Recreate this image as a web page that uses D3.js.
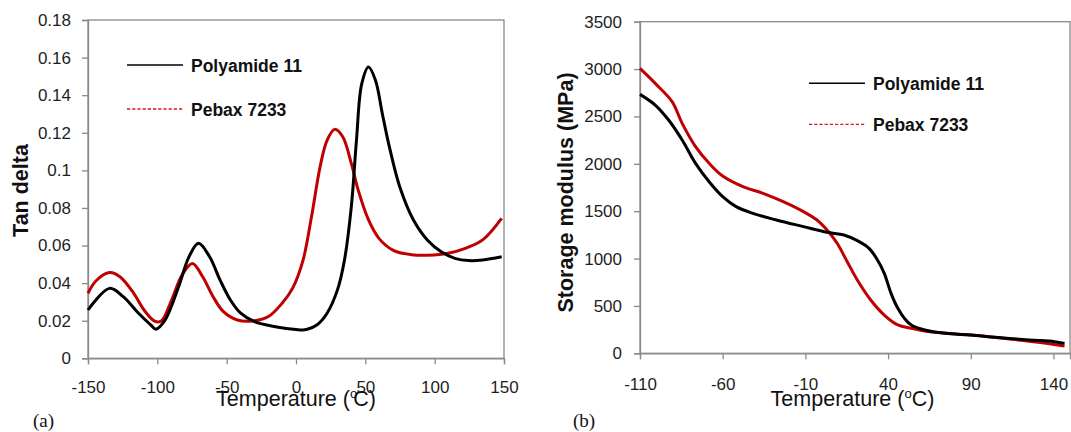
<!DOCTYPE html>
<html>
<head>
<meta charset="utf-8">
<script src="https://cdn.jsdelivr.net/npm/d3@7"></script>
<style>
  body { margin: 0; background: #fff; }
  svg { display: block; }
</style>
</head>
<body>
<script>
// (a) tan delta
const tanTicksX = [-150, -100, -50, 0, 50, 100, 150];
const tanTicksY = [0, 0.02, 0.04, 0.06, 0.08, 0.1, 0.12, 0.14, 0.16, 0.18];
const tanTempPA = [-150, -134.5, -124.6, -114.6, -104.6, -101, -94.7, -84.7, -77.2, -70.3, -62.3, -54.8, -47.3, -39.9, -29.9, -15, 0, 7.5, 15, 22.4, 29.9, 34.9, 39.9, 43.6, 47.4, 52.3, 57.3, 62.3, 67.3, 74.8, 84.7, 94.7, 104.7, 114.6, 124.6, 134.6, 148.3];
const tanPA = [0.0257, 0.0372, 0.0328, 0.0248, 0.0177, 0.0155, 0.020, 0.038, 0.054, 0.0612, 0.054, 0.0417, 0.031, 0.024, 0.0195, 0.0168, 0.0153, 0.0153, 0.0177, 0.024, 0.0364, 0.052, 0.0807, 0.116, 0.146, 0.155, 0.148, 0.130, 0.1126, 0.0913, 0.0736, 0.063, 0.0567, 0.0532, 0.052, 0.0523, 0.054];
const tanTempPB = [-150, -144.5, -134.5, -127, -117, -109.6, -102, -97.2, -89.7, -82.2, -74.7, -67.3, -59.8, -52.3, -42.3, -29.9, -19.9, -10, -2.5, 5, 11.2, 17.4, 22.4, 27.9, 33.6, 39.9, 44.8, 52.3, 59.8, 69.8, 84.7, 99.7, 109.7, 122.1, 134.6, 148.3];
const tanPB = [0.0346, 0.041, 0.0456, 0.0434, 0.0346, 0.0257, 0.0198, 0.0198, 0.031, 0.0443, 0.0505, 0.0434, 0.0328, 0.0248, 0.0204, 0.020, 0.0222, 0.0293, 0.0372, 0.052, 0.0754, 0.102, 0.116, 0.1218, 0.118, 0.1037, 0.0896, 0.0736, 0.0638, 0.0576, 0.055, 0.055, 0.0559, 0.0585, 0.063, 0.0745];

// (b) storage modulus
const modTicksX = [-110, -60, -10, 40, 90, 140];
const modTicksY = [0, 500, 1000, 1500, 2000, 2500, 3000, 3500];
const modTempPA = [-110, -100.8, -92.7, -84.5, -76.4, -68.2, -60, -51.9, -41.7, -27.5, -11.2, 3.1, 13.3, 21.4, 28.5, 33.6, 37.7, 41.8, 45.9, 49.9, 54, 62.2, 74.4, 90, 104.9, 125.3, 140.6, 146.7];
const modPA = [2733, 2620, 2462, 2251, 2005, 1811, 1653, 1548, 1477, 1407, 1337, 1277, 1249, 1189, 1108, 985, 844, 633, 475, 369, 299, 246, 211, 193, 169, 141, 123, 105];
const modTempPB = [-110, -100.8, -90.6, -84.5, -76.4, -68.2, -60, -47.8, -35.6, -23.4, -11.2, -3, 3.1, 9.2, 15.3, 21.4, 29.5, 37.7, 45.9, 54, 64.2, 90, 115.1, 135.5, 146.7];
const modPB = [3007, 2849, 2656, 2427, 2181, 2005, 1871, 1759, 1688, 1600, 1495, 1407, 1301, 1161, 967, 774, 563, 404, 299, 264, 229, 193, 148, 106, 77];

const seriesNames = ['Polyamide 11', 'Pebax 7233'];

const black = '#000000';
const red = '#c00000';
const axisGray = '#8a8a8a';
const sans = "'Liberation Sans', Arial, sans-serif";

const svg = d3.select('body').append('svg')
  .attr('width', 1071)
  .attr('height', 432)
  .style('background', '#fff');

function panel(opts) {
  const x = d3.scaleLinear().domain(opts.xDomain).range([opts.left, opts.right]);
  const y = d3.scaleLinear().domain(opts.yDomain).range([opts.bottom, opts.top]);
  const g = svg.append('g');

  // frame
  g.append('rect')
    .attr('x', opts.left).attr('y', opts.top)
    .attr('width', opts.right - opts.left)
    .attr('height', opts.bottom - opts.top)
    .attr('fill', 'none')
    .attr('stroke', axisGray)
    .attr('stroke-width', 1.3);

  const xAxis = g.append('g')
    .attr('transform', `translate(0, ${opts.bottom})`)
    .call(d3.axisBottom(x).tickValues(opts.xTicks).tickSize(6).tickPadding(opts.xPad).tickFormat(d => String(d)));

  const yAxis = g.append('g')
    .attr('transform', `translate(${opts.left}, 0)`)
    .call(d3.axisLeft(y).tickValues(opts.yTicks).tickSize(6).tickPadding(opts.yPad).tickFormat(d => String(d)));

  [xAxis, yAxis].forEach(a => {
    a.select('.domain').attr('stroke', axisGray).attr('stroke-width', 1.3);
    a.selectAll('.tick line').attr('stroke', axisGray).attr('stroke-width', 1.3);
    a.selectAll('.tick text')
      .attr('fill', '#1e1e1e')
      .style('font-family', sans)
      .style('font-size', '17px');
  });

  const line = d3.line()
    .x(d => x(d[0]))
    .y(d => y(d[1]))
    .curve(d3.curveCatmullRom.alpha(0.5));

  // Pebax first, polyamide on top where they cross
  g.append('path')
    .datum(d3.zip(opts.tempPB, opts.valPB))
    .attr('d', line)
    .attr('fill', 'none')
    .attr('stroke', red)
    .attr('stroke-width', 3);

  g.append('path')
    .datum(d3.zip(opts.tempPA, opts.valPA))
    .attr('d', line)
    .attr('fill', 'none')
    .attr('stroke', black)
    .attr('stroke-width', 3);

  // legend
  const legend = g.append('g');
  legend.append('line')
    .attr('x1', opts.legX).attr('x2', opts.legX + 56)
    .attr('y1', opts.legY).attr('y2', opts.legY)
    .attr('stroke', black).attr('stroke-width', 1.6);
  legend.append('line')
    .attr('x1', opts.legX).attr('x2', opts.legX + 56)
    .attr('y1', opts.legY + opts.legGap).attr('y2', opts.legY + opts.legGap)
    .attr('stroke', '#e0141e').attr('stroke-width', 1.3)
    .attr('stroke-dasharray', '3.2,2');
  legend.selectAll('text.leg')
    .data(seriesNames)
    .enter()
    .append('text')
    .attr('class', 'leg')
    .attr('x', opts.legX + 64)
    .attr('y', (d, i) => opts.legY + 7 + i * opts.legGap)
    .text(d => d)
    .style('font-family', sans)
    .style('font-size', '17.5px')
    .style('font-weight', 700)
    .attr('fill', '#111');

  // y title
  g.append('text')
    .attr('transform', `translate(${opts.yTitleX}, ${opts.yTitleY}) rotate(-90)`)
    .attr('text-anchor', 'middle')
    .style('font-family', sans)
    .style('font-size', '21.5px')
    .style('font-weight', 700)
    .attr('fill', '#111')
    .text(opts.yTitle);

  // x title
  const xt = g.append('text')
    .attr('x', opts.xTitleX)
    .attr('y', 405.5)
    .attr('text-anchor', 'middle')
    .style('font-family', sans)
    .style('font-size', '21.5px')
    .attr('fill', '#111');
  xt.append('tspan').text('Temperature (');
  xt.append('tspan').attr('dy', -8).style('font-size', '13px').text('o');
  xt.append('tspan').attr('dy', 8).attr('dx', opts.cShift).text('C)');

  // panel letter
  g.append('text')
    .attr('x', opts.letterX)
    .attr('y', 427)
    .style('font-family', "'Liberation Serif', 'Times New Roman', serif")
    .style('font-size', '19px')
    .attr('fill', '#111')
    .text(opts.letter);
}

panel({
  xDomain: [-150, 150], yDomain: [0, 0.18],
  left: 88, right: 504, top: 20, bottom: 358.3,
  xTicks: tanTicksX, yTicks: tanTicksY, xPad: 17, yPad: 11,
  tempPA: tanTempPA, valPA: tanPA, tempPB: tanTempPB, valPB: tanPB,
  legX: 127, legY: 65, legGap: 44,
  yTitle: 'Tan delta', yTitleX: 28, yTitleY: 190.5,
  xTitleX: 296, cShift: -4,
  letter: '(a)', letterX: 33
});

panel({
  xDomain: [-110, 150], yDomain: [0, 3500],
  left: 640, right: 1070, top: 21.7, bottom: 353.3,
  xTicks: modTicksX, yTicks: modTicksY, xPad: 19, yPad: 12,
  tempPA: modTempPA, valPA: modPA, tempPB: modTempPB, valPB: modPB,
  legX: 809, legY: 83.3, legGap: 41,
  yTitle: 'Storage modulus  (MPa)', yTitleX: 573, yTitleY: 192.5,
  xTitleX: 852.5, cShift: 0,
  letter: '(b)', letterX: 573
});
</script>
</body>
</html>
